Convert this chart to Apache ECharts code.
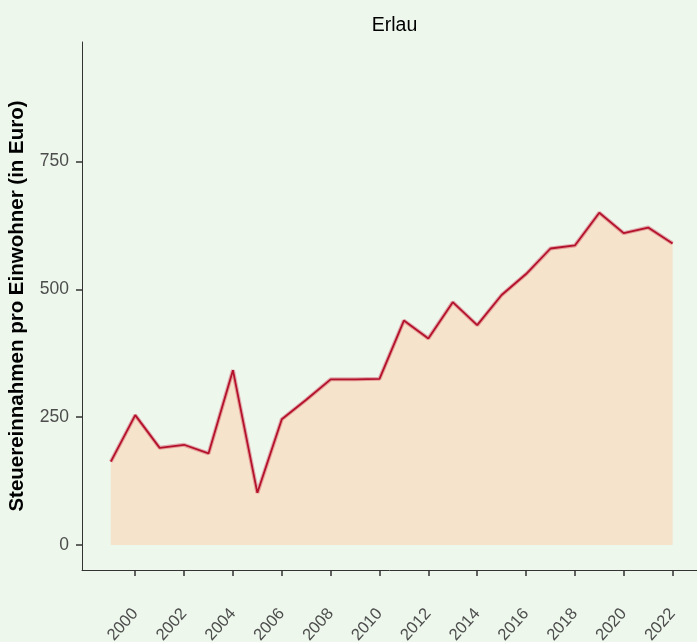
<!DOCTYPE html>
<html><head><meta charset="utf-8">
<script src="https://cdn.jsdelivr.net/npm/echarts@6/dist/echarts.min.js"></script>
<style>html,body{margin:0;padding:0;background:#EDF7EC;}#c{width:697px;height:642px;}</style>
</head><body><div id="c"></div>
<script>
const years = [1999,2000,2001,2002,2003,2004,2005,2006,2007,2008,2009,2010,2011,2012,2013,2014,2015,2016,2017,2018,2019,2020,2021,2022];
const values = [163,254,190,196,179,342,102,246,284,324,324,325,439,404,475,430,489,530,580,586,650,610,621,590];
const xTicks = [2000,2002,2004,2006,2008,2010,2012,2014,2016,2018,2020,2022];
const yTicks = [0,250,500,750];
const title = 'Erlau';
const yTitle = 'Steuereinnahmen pro Einwohner (in Euro)';

const data = years.map((y,i)=>[y, values[i]]);
const font = 'Liberation Sans, Arial, sans-serif';
const chart = echarts.init(document.getElementById('c'));
chart.setOption({
  backgroundColor: '#EDF7EC',
  animation: false,
  title: { text: title, left: 389.5, top: 11, textAlign: 'center',
    textStyle: { fontFamily: font, fontSize: 19.5, fontWeight: 'normal', color: '#000' } },
  grid: { left: 82, right: 0, top: 42, bottom: 72, outerBoundsMode: 'none', containLabel: false },
  xAxis: {
    type: 'value', min: 1997.82, max: 2023.0,
    splitLine: { show: false },
    axisLine: { onZero: false, lineStyle: { color: '#333', width: 1 } },
    axisTick: { customValues: xTicks, length: 6, lineStyle: { color: '#333', width: 1.5 } },
    axisLabel: { customValues: xTicks, rotate: 48, margin: 41, color: '#4d4d4d', fontSize: 16.5, fontFamily: font,
      formatter: v => String(v) }
  },
  yAxis: {
    type: 'value', min: -49, max: 984,
    name: yTitle, nameLocation: 'middle', nameGap: 54,
    nameTextStyle: { fontFamily: font, fontSize: 20.5, fontWeight: 'bold', color: '#000' },
    splitLine: { show: false },
    axisLine: { show: true, onZero: false, lineStyle: { color: '#333', width: 1 } },
    axisTick: { customValues: yTicks, length: 6, lineStyle: { color: '#333', width: 1.5 } },
    axisLabel: { customValues: yTicks, margin: 13, color: '#4d4d4d', fontSize: 17.5, fontFamily: font }
  },
  series: [
    { type: 'line', data: data, symbol: 'none', z: 2,
      lineStyle: { color: 'rgba(200,30,60,0.35)', width: 4 },
      areaStyle: { color: '#F5E3CB', opacity: 1, origin: 0 } },
    { type: 'line', data: data, symbol: 'none', z: 3,
      lineStyle: { color: '#B4112B', width: 1.8 } }
  ]
});
</script></body></html>
